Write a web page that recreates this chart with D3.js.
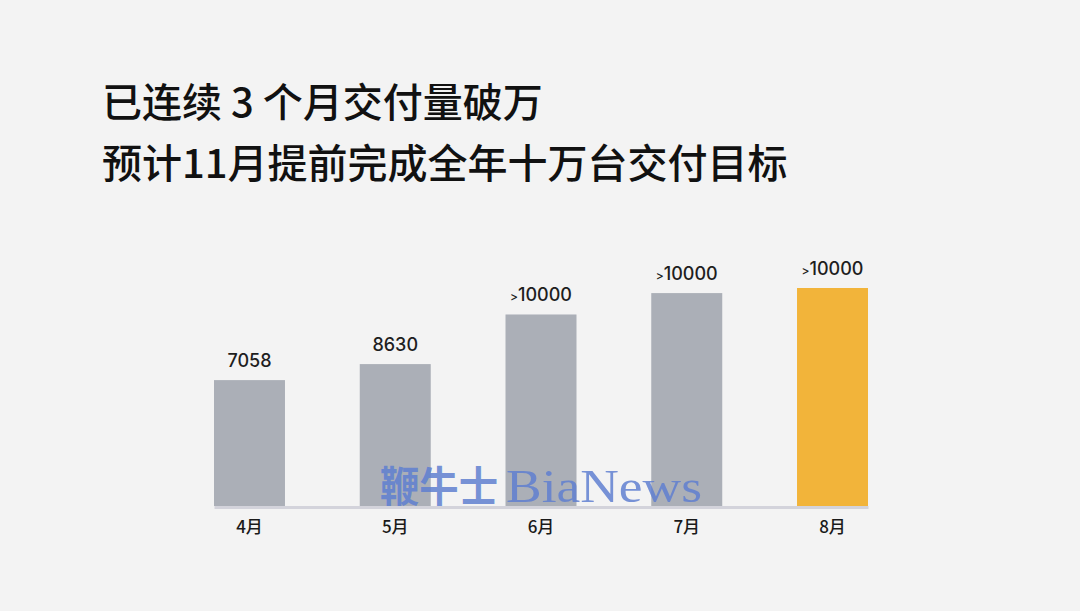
<!DOCTYPE html>
<html><head><meta charset="utf-8">
<script src="https://cdn.jsdelivr.net/npm/d3@7"></script>
<style>
html,body{margin:0;padding:0;background:#f3f3f3;}
svg{display:block;}
</style></head>
<body><div id="chart"></div>
<script>
const titleLines = ["已连续 3 个月交付量破万", "预计11月提前完成全年十万台交付目标"];
const categories = ["4月", "5月", "6月", "7月", "8月"];
const values = [7058, 8630, 13500, 15600, 16100];
const valueLabels = ["7058", "8630", ">10000", ">10000", ">10000"];
const highlight = [false, false, false, false, true];
const watermarkCn = "鞭牛士";
const watermarkEn = "BiaNews";

const W = 1080, H = 611;
const svg = d3.select("#chart").append("svg").attr("width", W).attr("height", H);
svg.append("rect").attr("width", W).attr("height", H).attr("fill", "#f3f3f3");

const cjk = "'Noto Sans CJK SC', 'Noto Sans', sans-serif";
const latin = "Inter, 'Noto Sans CJK SC', sans-serif";

svg.selectAll("text.title").data(titleLines).enter().append("text")
  .attr("class", "title")
  .attr("x", 102).attr("y", (d, i) => 117 + i * 61)
  .attr("font-family", cjk).attr("font-weight", 500).attr("font-size", 40)
  .attr("fill", "#111").text(d => d);

const x = d3.scaleBand().domain(categories).range([214, 868]).paddingInner(0.513).paddingOuter(0);
const y = d3.scaleLinear().domain([-5300, 16100]).range([506, 288]);

svg.selectAll("rect.bar").data(values).enter().append("rect")
  .attr("class", "bar")
  .attr("x", (d, i) => x(categories[i]))
  .attr("y", d => y(d))
  .attr("width", x.bandwidth())
  .attr("height", d => y(-5300) - y(d))
  .attr("fill", (d, i) => highlight[i] ? "#f2b43a" : "#abafb7");

// watermark
const wm = svg.append("text")
  .attr("x", 380).attr("y", 502)
  .attr("font-size", 42)
  .attr("fill", "#5f7fd0").attr("fill-opacity", 0.85);
wm.append("tspan").attr("font-family", cjk).attr("font-weight", 700)
  .attr("textLength", 118).attr("lengthAdjust", "spacingAndGlyphs").text(watermarkCn);
wm.append("tspan").attr("dx", 8).attr("font-family", "'Liberation Serif', serif")
  .attr("font-size", 46)
  .attr("textLength", 196).attr("lengthAdjust", "spacingAndGlyphs").text(watermarkEn);

// axis
const axis = svg.append("g").attr("transform", "translate(0,507)")
  .call(d3.axisBottom(x).tickSize(0).tickSizeOuter(0).tickPadding(14));
axis.select(".domain").attr("stroke", "#d3d3db").attr("stroke-width", 3);
axis.selectAll(".tick text")
  .attr("font-family", cjk).attr("font-weight", 500).attr("font-size", 17)
  .attr("fill", "#1a1a1a");

// value labels
const lab = svg.selectAll("text.val").data(values).enter().append("text")
  .attr("class", "val")
  .attr("x", (d, i) => x(categories[i]) + x.bandwidth() / 2)
  .attr("y", d => y(d) - 13)
  .attr("text-anchor", "middle")
  .attr("font-family", latin).attr("font-weight", 500).attr("font-size", 18)
  .attr("fill", "#1e1e1e");
lab.each(function(d, i) {
  const t = d3.select(this);
  const s = valueLabels[i];
  if (s.startsWith(">")) {
    t.append("tspan").attr("font-size", 12).text(">");
    t.append("tspan").text(s.slice(1));
  } else {
    t.text(s);
  }
});
</script>
</body></html>
